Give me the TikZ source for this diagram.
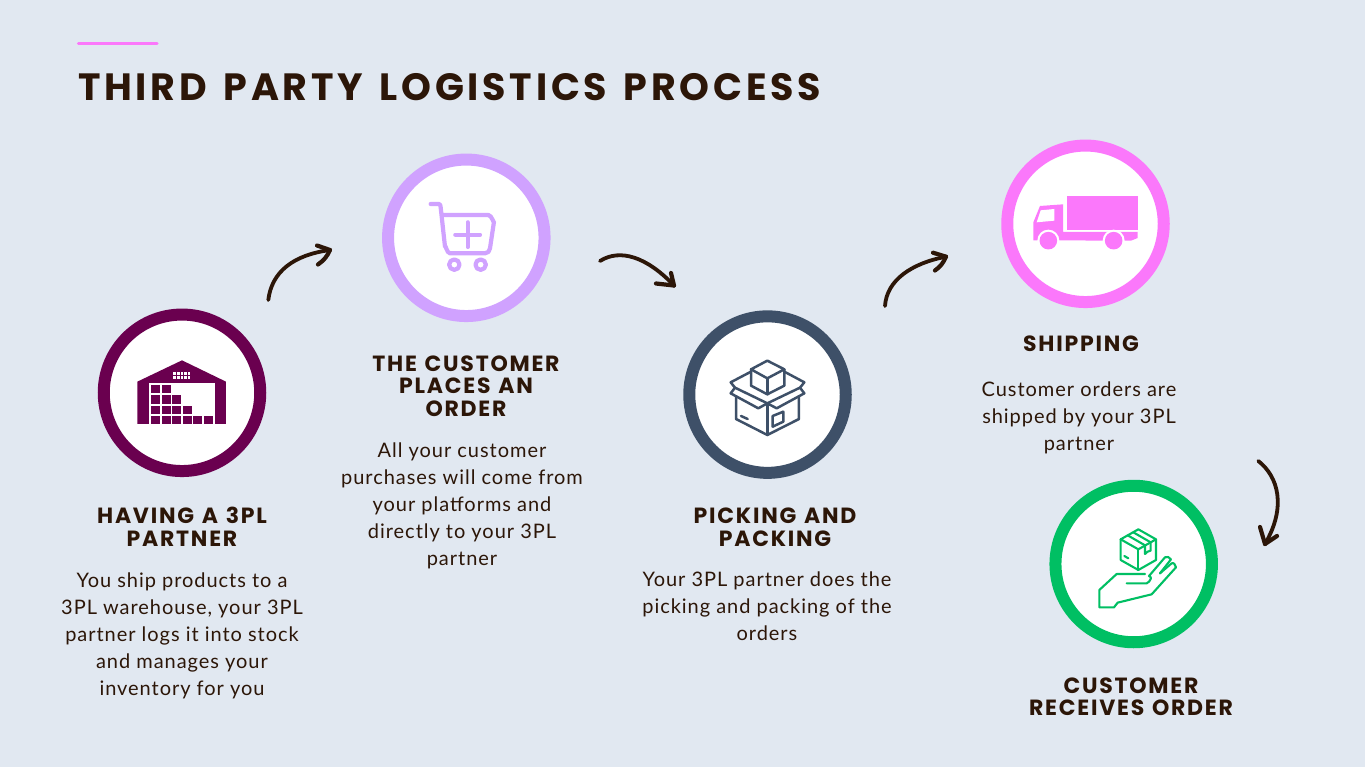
\documentclass[tikz,border=0pt]{standalone}
\usepackage{fontspec}
\setmainfont{Lato}
\newfontfamily\headfont[LetterSpace=8,WordSpace=1.2]{Poppins}
\newfontfamily\titlefont[LetterSpace=9.9,WordSpace=1.4]{Poppins}
\newfontfamily\bodyfont[LetterSpace=4.8]{Lato}
\definecolor{bgc}{HTML}{E1E8F1}
\definecolor{ink}{HTML}{2C1608}
\definecolor{plum}{HTML}{6A004F}
\definecolor{lilac}{HTML}{D0A2FF}
\definecolor{navy}{HTML}{3E5068}
\definecolor{pinkc}{HTML}{FB78FB}
\definecolor{greenc}{HTML}{00BF63}
\tikzset{
  x=1pt,y=-1pt,
  ring/.style={circle,fill=white,line width=12pt,minimum size=156.5pt,inner sep=0pt,draw=#1},
  heading/.style={font=\headfont\bfseries\fontsize{22}{22.5}\selectfont,text=ink,align=center,inner sep=0pt},
  bodytext/.style={font=\bodyfont\fontsize{20}{27}\selectfont,text=ink,align=center,inner sep=0pt},
  curve/.style={draw=ink,line width=3.8pt,line cap=round,line join=round},
  tipline/.style={draw=ink,line width=4.2pt,line cap=round,line join=round},
  zoomed/.style={shift={(#1)},x=0.3333pt,y=-0.3333pt},
}
\begin{document}
\begin{tikzpicture}
\useasboundingbox (0,0) rectangle (1365,767);
\fill[bgc] (0,0) rectangle (1365,767);
\draw[pinkc,line width=3.3pt,line cap=round] (78.5,43.3) -- (157,43.3);
\node[anchor=base west,inner sep=0pt,text=ink,font=\titlefont\bfseries\fontsize{38}{38}\selectfont] (title) at (78,101) {THIRD PARTY LOGISTICS PROCESS};

\node[ring=plum] (c1) at (182,392.8) {};
\node[ring=lilac] (c2) at (466.3,237.8) {};
\node[ring=navy] (c3) at (767.5,394.6) {};
\node[ring=pinkc] (c4) at (1085.5,223.8) {};
\node[ring=greenc] (c5) at (1133.7,564) {};

% warehouse
\begin{scope}[zoomed={90,300}]
\fill[plum] (142,245) -- (276,181) -- (408,245) -- (408,372) -- (142,372) -- cycle;
\fill[white] (178,249) rectangle (375,372);
\foreach \px/\py in {183/254,215/254,183/286,215/286,247/286,183/317,215/317,247/317,279/317,183/348,215/348,247/348,279/348,310/348,342/348}
  \fill[plum] (\px,\py) rectangle +(27,25);
\fill[white] (250,216) rectangle (301,236);
\foreach \px in {260,270,280,291} \draw[plum,line width=0.5pt] (\px,216) -- (\px,236);
\draw[plum,line width=0.5pt] (250,226) -- (301,226);
\end{scope}

% cart
\begin{scope}[zoomed={375,150},draw=lilac,line width=4.2pt,line cap=round,line join=round]
\draw (167,162) -- (192,162) to[out=0,in=100] (197,172) -- (210,290) to[out=85,in=180] (225,310) -- (330,310) to[out=0,in=265] (345,295) -- (357,215) to[out=275,in=0] (340,195) -- (201,195);
\draw (278,217) -- (278,291);
\draw (241,254) -- (315,254);
\draw (238,344) circle[radius=5.2pt];
\draw (317,344) circle[radius=5.2pt];
\end{scope}

% box
\begin{scope}[zoomed={680,305},draw=navy,line width=2.5pt,line cap=round,line join=round]
\draw (262,167) -- (313,193) -- (262,220) -- (213,193) -- cycle;
\draw (213,193) -- (213,242) -- (262,268) -- (313,242) -- (313,193);
\draw (262,220) -- (262,268);
\draw (213,200) -- (152,232) -- (165,248) -- (262,295) -- (360,248) -- (373,232) -- (313,200);
\draw (165,248) -- (152,265) -- (235,310) -- (262,295) -- (290,310) -- (373,265) -- (360,248);
\draw (168,275) -- (168,342) -- (262,390) -- (357,342) -- (357,275);
\draw (262,295) -- (262,390);
\draw (278,333) -- (310,320) -- (310,350) -- (278,365) -- cycle;
\draw (183,333) -- (203,342);
\end{scope}

% truck
\begin{scope}[zoomed={1000,135}]
\fill[pinkc] (202,183) rectangle (413,285);
\fill[pinkc] (100,316) -- (100,262) -- (120,213) -- (189,208) -- (189,291) -- (413,291) -- (413,309) -- (393,317) -- cycle;
\fill[white] (110,262) -- (122,226) -- (163,222) -- (163,257) -- cycle;
\fill[white] (145,317) circle[radius=11pt];
\fill[white] (341,317) circle[radius=11pt];
\fill[pinkc] (145,317) circle[radius=8.8pt];
\fill[pinkc] (341,317) circle[radius=8.8pt];
\end{scope}

% hand with parcel
\begin{scope}[zoomed={1045,450},draw=greenc,line width=2.1pt,line cap=round,line join=round]
\draw (280,238) -- (333,268) -- (280,298) -- (227,268) -- cycle;
\draw (227,268) -- (227,330) -- (280,360) -- (333,330) -- (333,268);
\draw (280,298) -- (280,360);
\draw (248,256) -- (300,286) -- (300,312) -- (308,305) -- (317,302) -- (317,277) -- (265,247);
\draw (238,318) -- (250,325);
\draw (245,400) -- (305,400) to[out=0,in=230] (318,385) to[out=60,in=-50] (312,378) -- (360,322) to[out=40,in=130] (378,328) -- (345,370);
\draw (345,370) -- (380,340) to[out=30,in=100] (393,352) -- (320,433) -- (218,458) -- (207,472) -- (163,472) -- (163,420) -- (215,372) -- (300,372);
\end{scope}

% text
\node[heading] (h1) at (182,527) {HAVING A 3PL\\PARTNER};
\node[bodytext] (b1) at (182,635.5) {You ship products to a\\3PL warehouse, your 3PL\\partner logs it into stock\\and manages your\\inventory for you};
\node[heading] (h2) at (466,386) {THE CUSTOMER\\PLACES AN\\ORDER};
\node[bodytext] (b2) at (462,505.5) {All your customer\\purchases will come from\\your platforms and\\directly to your 3PL\\partner};
\node[heading] (h3) at (775,527) {PICKING AND\\PACKING};
\node[bodytext] (b3) at (767,606.5) {Your 3PL partner does the\\picking and packing of the\\orders};
\node[heading] (h4) at (1081,344) {SHIPPING};
\node[bodytext] (b4) at (1079,418) {Customer orders are\\shipped by your 3PL\\partner};
\node[heading] (h5) at (1131,696.5) {CUSTOMER\\RECEIVES ORDER};

% connectors
\coordinate (a1s) at (268.3,300); \coordinate (a1e) at (330,250);
\coordinate (a2s) at (600,261); \coordinate (a2e) at (674,285.5);
\coordinate (a3s) at (885,306); \coordinate (a3e) at (946,256.7);
\coordinate (a4s) at (1258.3,461); \coordinate (a4e) at (1265,544);
\draw[curve] (a1s) .. controls (271.7,271.7) and (293.3,255) .. (a1e);
\draw[tipline] (a1e) -- (317,245.5);
\draw[tipline] (a1e) to[bend left=15] (318,264.5);
\draw[curve] (a2s) .. controls (620,248.3) and (646.7,256.7) .. (a2e);
\draw[tipline] (a2e) -- (656,283.5);
\draw[tipline] (a2e) -- (671,273);
\draw[curve] (a3s) .. controls (886.7,280) and (911.7,263.3) .. (a3e);
\draw[tipline] (a3e) -- (933,252.7);
\draw[tipline] (a3e) to[bend left=15] (935,270.5);
\draw[curve] (a4s) .. controls (1278.3,476.7) and (1286.7,506.7) .. (a4e);
\draw[tipline] (a4e) -- (1260,527);
\draw[tipline] (a4e) -- (1277,536);
\end{tikzpicture}
\end{document}
